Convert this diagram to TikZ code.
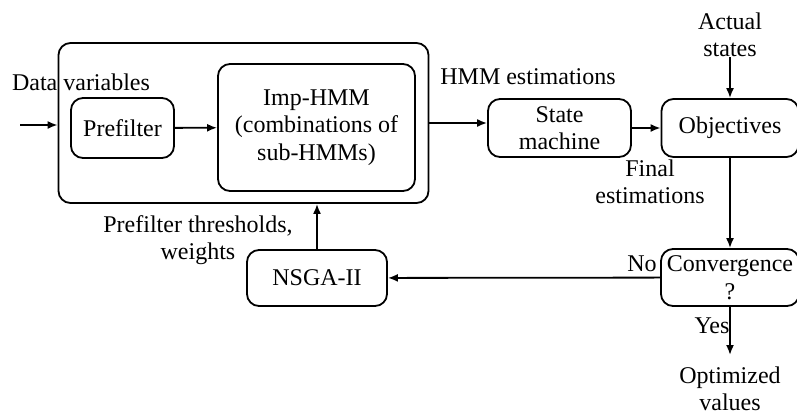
\documentclass[tikz,border=0pt]{standalone}
\usepackage{fontspec}
\setmainfont{Liberation Serif}
\usetikzlibrary{shapes,arrows,arrows.meta}

\begin{document}
\begin{tikzpicture}[x=1pt, y=-1pt,
    font=\fontsize{24}{27.5}\selectfont,
    block_center/.style ={rectangle, rounded corners=12pt, draw=black, line width=1.8pt,
      fill=white, align=center, inner sep=0pt},
    line/.style ={draw, line width=1.8pt, -{Latex[length=10pt,width=8pt]}, shorten >=0pt},
    block_noborder/.style ={rectangle, draw=none, fill=none, align=center, inner sep=0pt}]
    \useasboundingbox (0,0) rectangle (797,416);
    % frame round prefilter and Imp-HMM
    \node [block_center, minimum width=370pt, minimum height=160pt] (estimator) at (243.5,123) {};
    % row 1
    \node [block_center, minimum width=103pt, minimum height=60pt] (prefilter) at (122.5,128) {Prefilter};
    \node [block_center, minimum width=197pt, minimum height=127pt] (imp) at (316.5,127.5)
      {Imp-HMM\\(combinations of\\sub-HMMs)};
    \node [block_center, minimum width=143pt, minimum height=58pt] (statemachine) at (559.5,128)
      {State\\machine};
    \node [block_center, minimum width=137pt, minimum height=58pt] (objectives) at (730,128) {Objectives};
    % row 2
    \node [block_center, minimum width=140pt, minimum height=56pt] (nsga) at (317,278) {NSGA-II};
    \node [block_center, minimum width=138pt, minimum height=57pt] (convergence) at (730,277.5)
      {Convergence\\?};
    % labels
    \node [block_noborder] (datavar) at (81,82) {Data variables};
    \node [block_noborder] (hmmest) at (528,77) {HMM estimations};
    \node [block_noborder] (actual) at (730,35) {Actual\\states};
    \node [block_noborder] (finalest) at (650,182) {Final\\estimations};
    \node [block_noborder] (thresholds) at (198,240) {Prefilter thresholds,\\weights};
    \node [block_noborder] (no) at (642,264) {No};
    \node [block_noborder] (yes) at (712,326) {Yes};
    \node [block_noborder] (optimized) at (730,389) {Optimized\\values};
    \coordinate (in) at (20,125);
    \coordinate (out) at (730,355);
    % connecting nodes with paths
    \begin{scope}[every path/.style=line]
     \path (in)   -- (in -| estimator.west);
     \path (prefilter)   -- (imp);
     \path (estimator.east)   -- (estimator.east -| statemachine.west);
     \path (statemachine)   -- (objectives);
     \path (actual.south)   -- (objectives.north);
     \path (objectives)   -- (convergence);
     \path (convergence)   -- (nsga);
     \path (nsga.north)   -- (nsga.north |- estimator.south);
     \path (convergence)   -- (out);
    \end{scope}
\end{tikzpicture}
\end{document}
